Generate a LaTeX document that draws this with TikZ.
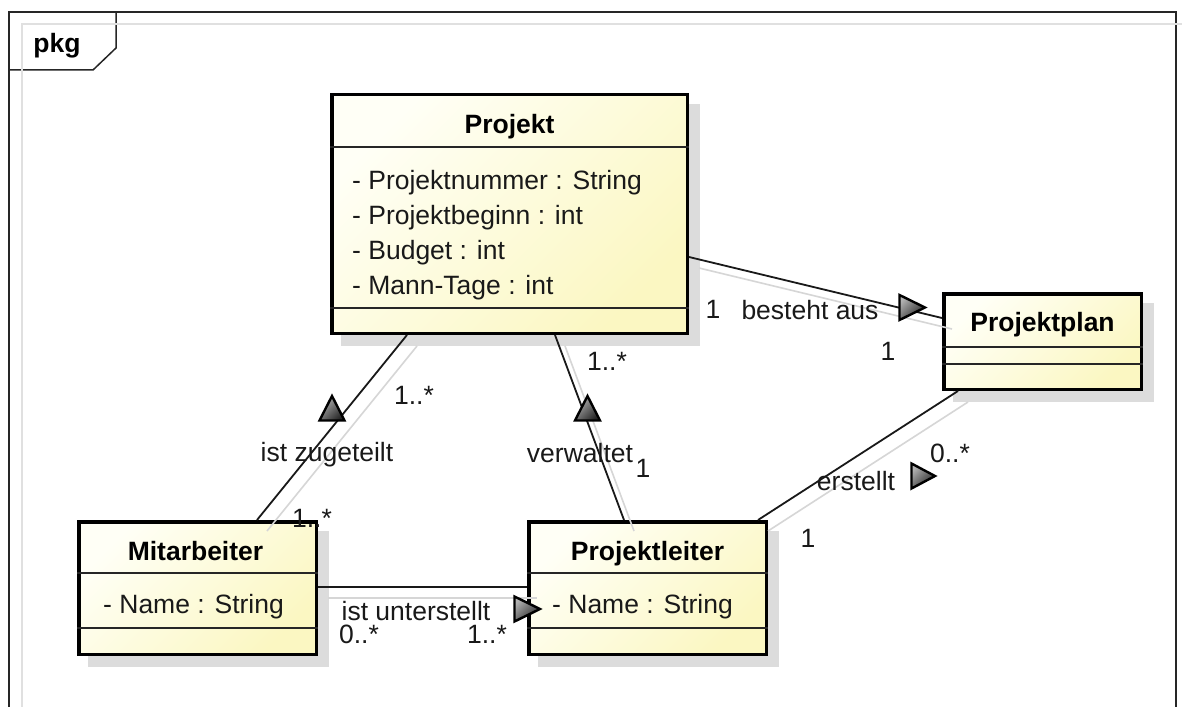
\documentclass[tikz,border=0pt]{standalone}
\usepackage{fontspec}
\setmainfont{Liberation Sans}
\usetikzlibrary{calc}
\definecolor{boxL}{HTML}{FFFFF6}
\definecolor{boxR}{HTML}{FBF7C2}
\definecolor{shadowc}{HTML}{DCDCDC}
\definecolor{lineshadow}{HTML}{D6D6D6}
\pgfdeclarelayer{bg}
\pgfsetlayers{bg,main}
\newcommand\umlfont{\fontsize{26.5}{30}\selectfont}
\newcommand\umltriR[3]{\draw[tri] (#1+1.5,#3-12.5) -- (#2-3,#3) -- (#1+1.5,#3+12.5) -- cycle;}
\newcommand\umltriU[3]{\draw[tri] (#1-12.5,#3-1.5) -- (#1,#2+3) -- (#1+12.5,#3-1.5) -- cycle;}
\begin{document}
\begin{tikzpicture}[x=1pt,y=-1pt,
  classbox/.style={draw=black, line width=3.5pt, outer sep=1.75pt, inner sep=0pt, anchor=north west, top color=boxL, bottom color=boxR, shading angle=45},
  sepline/.style={line width=1.5pt, black!85},
  conn/.style={line width=1.8pt, black!90},
  connsh/.style={line width=1.6pt, lineshadow},
  tri/.style={draw=black, line width=2.4pt, line join=miter, top color=black!30, bottom color=black!85, shading angle=45},
  txt/.style={inner sep=0pt, anchor=base, font=\umlfont, text=black!90},
  ttl/.style={inner sep=0pt, anchor=base, font=\umlfont\bfseries},
  attr/.style={inner sep=0pt, anchor=base west, font=\umlfont, text=black!90},
  frameline/.style={line width=1.5pt, black!85},
]
\clip (0,0) rectangle (1182,706);
\begin{pgfonlayer}{bg}
\fill[white] (0,0) rectangle (1182,706);
\end{pgfonlayer}

% frame and tab
\draw[frameline] (9,730) -- (9,12) -- (1176,12) -- (1176,730);
\draw[frameline] (9,70) -- (93,70) -- (116,48) -- (116,12);
\draw[line width=1.5pt, black!12] (22,730) -- (22,24) -- (1182,24);
\node[ttl] (pkg) at (57,53) {pkg};

% classes
\node[classbox, minimum width=355.5pt, minimum height=238.5pt] (projekt) at (330,93) {};
\node[classbox, minimum width=197.5pt, minimum height=95.5pt] (projektplan) at (942,292) {};
\node[classbox, minimum width=237.5pt, minimum height=132.5pt] (mitarbeiter) at (77,520) {};
\node[classbox, minimum width=237.5pt, minimum height=132.5pt] (projektleiter) at (527,520) {};

\begin{pgfonlayer}{bg}
\foreach \n in {projekt,projektplan,mitarbeiter,projektleiter}
  \fill[shadowc] ($(\n.north west)+(11,11)$) rectangle ($(\n.south east)+(11,11)$);
\end{pgfonlayer}

% compartments
\draw[sepline] ($(projekt.north west)+(0,54)$) -- ($(projekt.north east)+(0,54)$);
\draw[sepline] ($(projekt.north west)+(0,215)$) -- ($(projekt.north east)+(0,215)$);
\draw[sepline] ($(projektplan.north west)+(0,55)$) -- ($(projektplan.north east)+(0,55)$);
\draw[sepline] ($(projektplan.north west)+(0,72)$) -- ($(projektplan.north east)+(0,72)$);
\foreach \n in {mitarbeiter,projektleiter}{
  \draw[sepline] ($(\n.north west)+(0,53)$) -- ($(\n.north east)+(0,53)$);
  \draw[sepline] ($(\n.north west)+(0,108)$) -- ($(\n.north east)+(0,108)$);
}

% class texts
\node[ttl] (projekt-name) at ($(projekt.north)+(0,40)$) {Projekt};
\node[attr] (projekt-a1) at ($(projekt.north west)+(22,96)$) {- Projektnummer : String};
\node[attr] (projekt-a2) at ($(projekt.north west)+(22,131)$) {- Projektbeginn : int};
\node[attr] (projekt-a3) at ($(projekt.north west)+(22,166)$) {- Budget : int};
\node[attr] (projekt-a4) at ($(projekt.north west)+(22,201)$) {- Mann-Tage : int};
\node[ttl] (projektplan-name) at ($(projektplan.north)+(0,39)$) {Projektplan};
\node[ttl] (mitarbeiter-name) at ($(mitarbeiter.north)+(-2,40)$) {Mitarbeiter};
\node[attr] (mitarbeiter-a1) at ($(mitarbeiter.north west)+(26,93)$) {- Name : String};
\node[ttl] (projektleiter-name) at ($(projektleiter.north)+(0,40)$) {Projektleiter};
\node[attr] (projektleiter-a1) at ($(projektleiter.north west)+(25,93)$) {- Name : String};

% connector endpoints
\coordinate (pj-r) at ($(projekt.north east)+(0,164)$);
\coordinate (pp-l) at ($(projektplan.north west)+(0,26)$);
\coordinate (pj-b1) at ($(projekt.south west)+(77,0)$);
\coordinate (ma-t) at ($(mitarbeiter.north west)+(180,0)$);
\coordinate (pj-b2) at ($(projekt.south west)+(225,0)$);
\coordinate (pl-t1) at ($(projektleiter.north west)+(97,0)$);
\coordinate (pp-b) at ($(projektplan.south west)+(16,0)$);
\coordinate (pl-t2) at ($(projektleiter.north east)+(-10,0)$);
\coordinate (ma-r) at ($(mitarbeiter.north east)+(0,67)$);
\coordinate (pl-l) at ($(projektleiter.north west)+(0,67)$);

% connector shadows
\foreach \a/\b in {pj-r/pp-l, pj-b1/ma-t, pj-b2/pl-t1, pp-b/pl-t2, ma-r/pl-l}
  \draw[connsh] ($(\a)+(10,11)$) -- ($(\b)+(10,11)$);

% connectors
\draw[conn] (pj-r) -- (pp-l);
\draw[conn] (pj-b1) -- (ma-t);
\draw[conn] (pj-b2) -- (pl-t1);
\draw[conn] (pp-b) -- (pl-t2);
\draw[conn] (ma-r) -- (pl-l);

% direction triangles
\umltriR{898}{928}{307.5}
\umltriU{332}{393}{422}
\umltriU{587.5}{393}{422}
\umltriR{910}{938}{476}
\umltriR{513}{543}{609}

% labels
\node[txt] (l1) at (713,318) {1};
\node[txt] (l2) at (810,319) {besteht aus};
\node[txt] (l3) at (888,360) {1};
\node[txt] (l4) at (414,404) {1..*};
\node[txt] (l5) at (327,461) {ist zugeteilt};
\node[txt] (l6) at (312,527) {1..*};
\node[txt] (l7) at (607,370) {1..*};
\node[txt] (l8) at (580,462) {verwaltet};
\node[txt] (l9) at (643,477) {1};
\node[txt] (l10) at (950,462) {0..*};
\node[txt] (l11) at (856,490) {erstellt};
\node[txt] (l12) at (808,547) {1};
\node[txt] (l13) at (416,620) {ist unterstellt};
\node[txt] (l14) at (359,643) {0..*};
\node[txt] (l15) at (487,643) {1..*};
\end{tikzpicture}
\end{document}
